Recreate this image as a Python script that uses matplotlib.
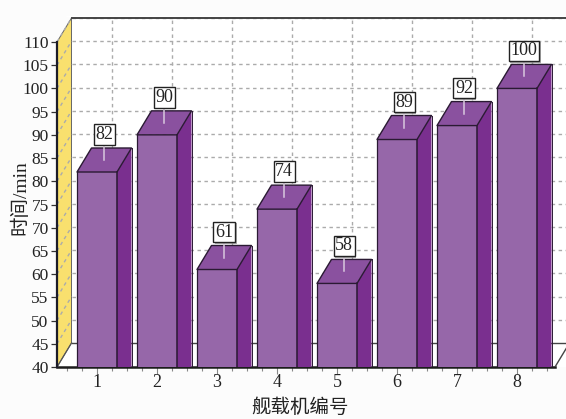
import matplotlib
matplotlib.use("Agg")
import matplotlib.pyplot as plt
import matplotlib.patheffects as pe
from matplotlib.patches import Polygon
import numpy as np

plt.rcParams["font.family"] = ["Liberation Serif", "Noto Sans CJK SC"]

aircraft = [1, 2, 3, 4, 5, 6, 7, 8]
minutes = [82, 90, 61, 74, 58, 89, 92, 100]
y_ticks = list(range(40, 115, 5))
x_label = "舰载机编号"
y_label = "时间/min"

W, H = 566, 419
PX_X = 60.0            # pixels per aircraft number
PX_Y = 325 / 70        # pixels per minute
DX = 14.5 / PX_X       # depth of the 3d box in data units
DY = 24 / PX_Y
BAR_W = 40 / PX_X

X0 = 1 - 40 / PX_X
X1 = 1 + (W - 97) / PX_X
Y0, Y1 = 40, 110 + DY + 0.4

fig = plt.figure(figsize=(W / 100, H / 100), dpi=100, facecolor="#fcfcfc")
ax_h = (Y1 - Y0) * PX_Y
ax = fig.add_axes([57 / W, (H - 367) / H, (W - 57) / W, ax_h / H], facecolor="white")
ax.set_xlim(X0, X1)
ax.set_ylim(Y0, Y1)

for s in ["top", "right", "bottom"]:
    ax.spines[s].set_visible(False)
ax.spines["left"].set_bounds(40, 110)
ax.spines["left"].set_linewidth(1.6)
ax.spines["left"].set_color("#1c1c28")
# white corner above the axis, outside the wall
ax.add_patch(Polygon([(X0, 110), (X0 + DX, 110 + DY), (X0, 110 + DY + 1)],
                     fc="#fcfcfc", ec="none", zorder=0.5))

# yellow side wall
ax.add_patch(Polygon([(X0, 40), (X0 + DX, 40 + DY), (X0 + DX, 110 + DY), (X0, 110)],
                     fc="#f9e06e", ec="#666666", lw=0.7, zorder=1))

grid_style = dict(color="#ababab", lw=1.0, ls=(0, (2.5, 2.5)), zorder=1.5)
for v in y_ticks[1:]:
    ax.plot([X0 + DX, X1], [v + DY, v + DY], **grid_style)
    ax.plot([X0, X0 + DX], [v, v + DY], **grid_style)
for n in aircraft:
    ax.plot([n + DX, n + DX], [40 + DY, 110 + DY], **grid_style)

# wall outlines and floor
ax.plot([X0 + DX, X1], [110 + DY, 110 + DY], color="#444444", lw=1.4, zorder=2, clip_on=False)
ax.plot([X0 + DX, X1], [40 + DY, 40 + DY], color="#444444", lw=1.0, zorder=2)
floor_end = 8 + (555 - 517) / PX_X
ax.plot([X0, floor_end], [40, 40], color="#1c1c1c", lw=1.8, zorder=2, clip_on=False)
ax.plot([X0, X0 + DX], [40, 40 + DY], color="#555555", lw=0.9, zorder=2)
ax.plot([floor_end, floor_end + DX], [40, 40 + DY], color="#444444", lw=1.0, zorder=2)

# bars
front_c, side_c, top_c = "#9667a9", "#7a2f8f", "#8a519f"
edge = "#2a1a33"
ax.bar(aircraft, [m - 40 for m in minutes], bottom=40, width=BAR_W, color=front_c,
       linewidth=0, zorder=3)
for n, m in zip(aircraft, minutes):
    l, r = n - BAR_W / 2, n + BAR_W / 2
    # side panel runs straight down to the floor line
    ax.add_patch(Polygon([(r, 40), (r + DX, 40), (r + DX, m + DY), (r, m)],
                         fc=side_c, ec="none", zorder=3))
    ax.add_patch(Polygon([(l, m), (r, m), (r + DX, m + DY), (l + DX, m + DY)],
                         fc=top_c, ec=edge, lw=1.0, zorder=4, joinstyle="round"))
    ax.plot([l, l], [40, m], color=edge, lw=0.9, zorder=4)
    ax.plot([r, r], [40, m], color=edge, lw=1.1, zorder=4)
    ax.plot([r + DX, r + DX], [40, m + DY], color=edge, lw=0.7, zorder=4)
    # leader and value box
    cx = n + DX / 2
    ax.plot([cx, cx], [m + DY / 2, m + DY + 0.6], color="#d9c8de", lw=1.1, zorder=5)
    t = ax.text(cx, m + DY + 2.9, str(m), ha="center", va="center", fontsize=13,
                color="#222222", zorder=6,
                bbox=dict(boxstyle="square,pad=0.1", fc="white", ec="#222222", lw=1.0))
    t.get_bbox_patch().set_path_effects(
        [pe.withSimplePatchShadow(offset=(1, -1), shadow_rgbFace="#888888", alpha=0.7)])

ax.set_xticks(aircraft)
ax.set_xticks(np.arange(X0 + 10 / PX_X, 8.6, 0.25), minor=True)
ax.set_yticks(y_ticks)
ax.tick_params(axis="x", which="major", length=5, width=0.8, color="#888888",
               labelsize=13, pad=0, labelcolor="#222222")
ax.tick_params(axis="x", which="minor", length=3, width=0.8, color="#888888")
ax.tick_params(axis="y", length=4, width=0.9, color="#333333", labelsize=12.5,
               pad=2, labelcolor="#222222")

fig.text(300 / W, 1 - 408 / H, x_label, ha="center", va="center", fontsize=14, color="#222222")
fig.text(20 / W, 1 - 198 / H, y_label, ha="center", va="center", rotation=90,
         fontsize=14, color="#222222")

fig.savefig("out.png", dpi=100, facecolor=fig.get_facecolor())
